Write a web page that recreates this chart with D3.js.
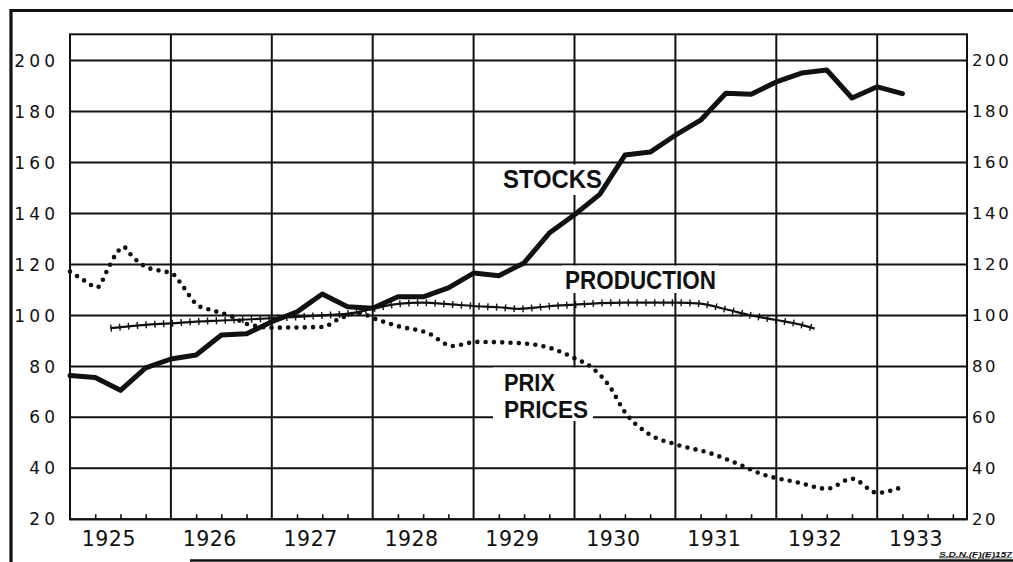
<!DOCTYPE html>
<html>
<head>
<meta charset="utf-8">
<script src="https://cdn.jsdelivr.net/npm/d3@7"></script>
<style>
  html, body { margin: 0; padding: 0; background: #fff; }
  svg { display: block; }
</style>
</head>
<body>
<svg id="chart" width="1013" height="562"></svg>
<script>
// ---------- DATA ----------
const yearLabels = ["1925","1926","1927","1928","1929","1930","1931","1932","1933"];
const yearBoundaries = [1926,1927,1928,1929,1930,1931,1932,1933];
const yTicks = [20,40,60,80,100,120,140,160,180,200];

const stocksDates = [1925.00,1925.25,1925.50,1925.75,1926.00,1926.25,1926.50,1926.75,
  1927.00,1927.25,1927.50,1927.75,1928.00,1928.25,1928.50,1928.75,
  1929.00,1929.25,1929.50,1929.75,1930.00,1930.25,1930.50,1930.75,
  1931.00,1931.25,1931.50,1931.75,1932.00,1932.25,1932.50,1932.75,
  1933.00,1933.25];
const stocksValues = [76.4,75.6,70.6,79.4,82.9,84.5,92.3,92.8,
  97.5,101.4,108.4,103.4,102.8,107.3,107.3,110.8,
  116.6,115.6,120.6,132.3,139.5,147.5,162.9,164.1,
  170.7,176.6,187.2,186.8,191.6,195.1,196.3,185.3,
  189.7,187.0];

const productionDates = [1925.40,1925.75,1926.00,1926.25,1926.50,1926.75,1927.00,1927.25,
  1927.50,1927.78,1928.00,1928.25,1928.50,1928.75,1929.00,1929.25,1929.45,1929.75,
  1930.00,1930.25,1930.50,1930.75,1931.00,1931.25,1931.50,1931.75,1932.00,1932.25,1932.38];
const productionValues = [95.0,96.3,96.9,97.6,98.0,98.4,98.9,99.4,
  100.0,100.8,102.6,104.5,105.0,104.4,103.7,103.2,102.6,103.6,
  104.2,104.8,105.0,105.0,105.0,104.6,102.4,100.0,98.2,96.3,94.8];

const pricesDates = [1925.00,1925.15,1925.27,1925.37,1925.45,1925.53,1925.62,1925.75,1925.91,
  1926.01,1926.11,1926.19,1926.26,1926.39,1926.59,1926.75,1927.01,1927.51,1927.65,
  1927.87,1928.00,1928.24,1928.55,1928.79,1929.03,1929.46,1929.76,1929.99,1930.18,
  1930.35,1930.50,1930.72,1931.02,1931.34,1931.64,1931.84,1932.23,1932.50,1932.75,
  1933.00,1933.25];
const pricesValues = [117.2,113.5,111.0,117.8,123.7,126.9,123.0,119.1,117.4,
  116.5,111.9,107.4,104.1,102.2,99.8,96.7,95.2,95.5,98.3,
  101.0,99.0,95.9,93.0,88.0,89.6,89.1,87.2,83.4,79.3,
  72.0,62.0,53.9,49.2,46.0,41.4,38.0,34.3,32.0,35.9,
  30.4,32.7];

const seriesLabels = { stocks: "STOCKS", production: "PRODUCTION", prix: "PRIX", prices: "PRICES" };
const sourceNote = "S.D.N.(F)(E)157";

// ---------- SCALES ----------
const svg = d3.select("#chart");
const x = d3.scaleLinear().domain([1925, 1933.89]).range([70, 967]);
const y = d3.scaleLinear().domain([20, 210.3]).range([519.3, 34.3]);

const ink = "#111";

// outer border
svg.append("path")
  .attr("d", "M1013,10.5 L11,10.5 L11,562")
  .attr("fill", "none").attr("stroke", ink).attr("stroke-width", 3.2);
svg.append("line").attr("x1", 190).attr("x2", 1013).attr("y1", 560.5).attr("y2", 560.5)
  .attr("stroke", ink).attr("stroke-width", 2.6);

// grid
const grid = svg.append("g").attr("stroke", ink).attr("stroke-width", 2).attr("fill", "none");
grid.selectAll("line.h").data(yTicks).join("line")
  .attr("x1", x.range()[0]).attr("x2", x.range()[1])
  .attr("y1", d => y(d)).attr("y2", d => y(d));
grid.selectAll("line.v").data(yearBoundaries).join("line")
  .attr("x1", d => x(d)).attr("x2", d => x(d))
  .attr("y1", y.range()[0]).attr("y2", y.range()[1]);
grid.append("rect")
  .attr("x", x.range()[0]).attr("y", y.range()[1])
  .attr("width", x.range()[1] - x.range()[0]).attr("height", y.range()[0] - y.range()[1]);

// quarterly ticks on bottom axis
const xAxis = d3.axisBottom(x)
  .tickValues(d3.range(1925.25, 1933.89, 0.25).filter(t => Math.abs(t - Math.round(t)) > 0.01))
  .tickSize(-5).tickFormat("");
const ax = svg.append("g").attr("transform", `translate(0,${y.range()[0]})`).call(xAxis);
ax.select(".domain").remove();
ax.selectAll(".tick line").attr("stroke", ink).attr("stroke-width", 1.6);

// white boxes behind labels (break the grid)
const boxes = [
  {x0: 499, x1: 605, y0: 164.5, y1: 195},
  {x0: 562, x1: 719, y0: 265.5, y1: 293},
  {x0: 493, x1: 593, y0: 367.5, y1: 421}
];
svg.append("g").selectAll("rect").data(boxes).join("rect")
  .attr("x", d => d.x0).attr("y", d => d.y0)
  .attr("width", d => d.x1 - d.x0).attr("height", d => d.y1 - d.y0)
  .attr("fill", "#fff");

// y labels
const lblFont = "'DejaVu Sans', sans-serif";
const ls = 4.2;
svg.append("g").selectAll("text").data(yTicks).join("text")
  .attr("x", 55 + ls).attr("y", d => y(d)).attr("dy", "0.36em")
  .attr("text-anchor", "end")
  .attr("font-family", lblFont).attr("font-size", 17).attr("letter-spacing", ls)
  .attr("fill", ink).text(d => d);
const lsR = 2.6;
svg.append("g").selectAll("text").data(yTicks).join("text")
  .attr("x", 972).attr("y", d => y(d)).attr("dy", "0.36em")
  .attr("text-anchor", "start")
  .attr("font-family", lblFont).attr("font-size", 16.5).attr("letter-spacing", lsR)
  .attr("fill", ink).text(d => d);

// year labels
svg.append("g").selectAll("text").data(yearLabels).join("text")
  .attr("x", d => x(+d + 0.385)).attr("y", 545.5)
  .attr("text-anchor", "middle")
  .attr("font-family", lblFont).attr("font-size", 20.5).attr("letter-spacing", 0.5)
  .attr("fill", ink).text(d => d);

// ---------- SERIES ----------
const stocks = stocksDates.map((d, i) => [d, stocksValues[i]]);
const production = productionDates.map((d, i) => [d, productionValues[i]]);
const prices = pricesDates.map((d, i) => [d, pricesValues[i]]);

const lineLin = d3.line().x(d => x(d[0])).y(d => y(d[1]));
const lineSmooth = d3.line().x(d => x(d[0])).y(d => y(d[1])).curve(d3.curveMonotoneX);

// prices: dotted
svg.append("path").attr("d", lineSmooth(prices))
  .attr("fill", "none").attr("stroke", ink).attr("stroke-width", 4.6)
  .attr("stroke-linecap", "round").attr("stroke-dasharray", "0 8.3");

// production: line with cross ticks
const prodD = lineSmooth(production);
svg.append("path").attr("d", prodD)
  .attr("fill", "none").attr("stroke", ink).attr("stroke-width", 2.2);
svg.append("path").attr("d", prodD)
  .attr("fill", "none").attr("stroke", ink).attr("stroke-width", 7)
  .attr("stroke-dasharray", "1.4 7.4");

// stocks: thick solid
svg.append("path").attr("d", lineLin(stocks))
  .attr("fill", "none").attr("stroke", ink).attr("stroke-width", 5)
  .attr("stroke-linejoin", "round").attr("stroke-linecap", "round");

// ---------- SERIES LABELS ----------
const bold = "'Liberation Sans', Arial, sans-serif";
const labels = [
  {t: seriesLabels.stocks, x: 503, y: 188.3, w: 99, fs: 26.5},
  {t: seriesLabels.production, x: 565, y: 288.5, w: 151, fs: 26.5},
  {t: seriesLabels.prix, x: 504, y: 390.8, w: 51, fs: 24.5},
  {t: seriesLabels.prices, x: 504, y: 418, w: 84, fs: 24.5}
];
svg.append("g").selectAll("text").data(labels).join("text")
  .attr("x", d => d.x).attr("y", d => d.y)
  .attr("textLength", d => d.w).attr("lengthAdjust", "spacingAndGlyphs")
  .attr("font-family", bold).attr("font-weight", "bold").attr("font-size", d => d.fs)
  .attr("fill", ink).text(d => d.t);

// source note
svg.append("text").attr("x", 939).attr("y", 556.5)
  .attr("font-family", bold).attr("font-style", "italic").attr("font-weight", "bold")
  .attr("font-size", 7.5).attr("textLength", 73).attr("lengthAdjust", "spacingAndGlyphs")
  .attr("text-decoration", "underline")
  .attr("fill", ink).text(sourceNote);
</script>
</body>
</html>
